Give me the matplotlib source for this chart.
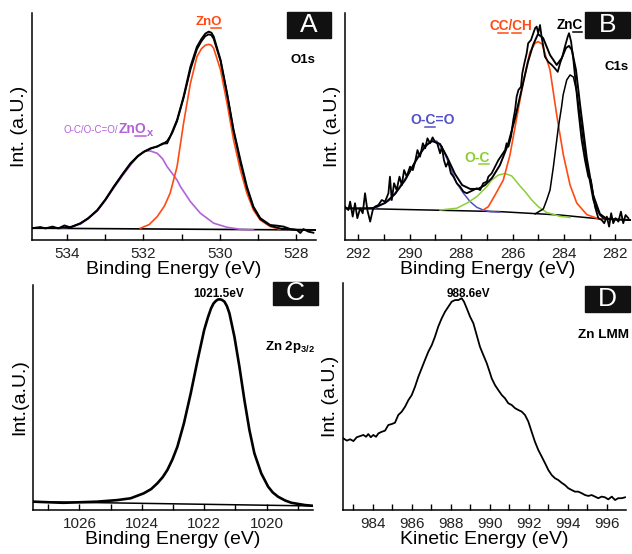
import numpy as np
import matplotlib
matplotlib.use("Agg")
import matplotlib.pyplot as plt
from matplotlib.lines import Line2D
from matplotlib.patches import Rectangle
from matplotlib.ticker import MultipleLocator
from matplotlib.font_manager import FontProperties

plt.rcParams['font.family'] = 'Liberation Sans'
plt.rcParams['axes.linewidth'] = 1.1
plt.rcParams['mathtext.fontset'] = 'custom'
plt.rcParams['mathtext.rm'] = 'Liberation Sans'
plt.rcParams['mathtext.bf'] = 'Liberation Sans:bold'

# ------------------------------------------------------------------
# DATA (energy in eV, intensity in arbitrary units, 0..100 = axis)
# ------------------------------------------------------------------
# Panel A : O1s
A_DATA = [(534.91, 5.2), (534.70, 5.7), (534.57, 5.1), (534.38, 5.9), (534.23, 5.1),
          (534.07, 6.4), (533.91, 5.5), (533.65, 7.4), (533.45, 9.5), (533.21, 13.2),
          (533.00, 17.8), (532.78, 23.5), (532.55, 29.0), (532.34, 33.8), (532.15, 37.0),
          (531.99, 38.9), (531.80, 40.5), (531.64, 41.1), (531.50, 42.5), (531.38, 42.6),
          (531.30, 45.5), (531.12, 52.9), (530.95, 63.1), (530.77, 76.3), (530.60, 85.1),
          (530.48, 88.6), (530.38, 90.9), (530.29, 91.8), (530.22, 91.3), (530.16, 89.6),
          (529.98, 79.3), (529.81, 64.6), (529.64, 48.5), (529.46, 35.2), (529.29, 23.5),
          (529.12, 14.7), (528.94, 9.6), (528.68, 6.6), (528.50, 6.3), (528.33, 5.9),
          (528.15, 4.8), (527.98, 4.4), (527.89, 3.1), (527.81, 4.8), (527.68, 3.7),
          (527.55, 3.2)]
A_ENVELOPE = [(534.92, 5.2), (534.2, 5.3), (533.9, 5.8), (533.65, 7.3), (533.45, 9.6),
              (533.21, 13.0), (533.0, 17.6), (532.78, 23.2), (532.55, 28.8), (532.34, 33.5),
              (532.15, 36.8), (531.99, 38.8), (531.8, 40.3), (531.64, 41.3), (531.5, 42.2),
              (531.38, 43.6), (531.25, 47.0), (531.12, 52.3), (530.95, 62.5), (530.77, 75.0),
              (530.6, 84.0), (530.48, 87.6), (530.38, 89.8), (530.29, 90.6), (530.22, 90.2),
              (530.16, 88.6), (529.98, 78.8), (529.81, 64.3), (529.64, 48.0), (529.46, 34.0),
              (529.29, 22.8), (529.12, 14.3), (528.94, 9.2), (528.68, 6.3), (528.4, 5.0),
              (528.0, 4.6), (527.5, 4.4)]
A_ZNO = [(532.08, 5.2), (531.85, 6.8), (531.64, 10.3), (531.45, 15.0), (531.30, 20.7),
         (531.12, 32.3), (530.95, 51.4), (530.77, 69.0), (530.60, 80.7), (530.48, 84.3),
         (530.38, 85.8), (530.29, 86.2), (530.22, 85.8), (530.16, 84.4), (529.98, 74.9),
         (529.81, 60.2), (529.64, 44.1), (529.46, 30.8), (529.29, 20.6), (529.12, 13.2),
         (528.94, 8.8), (528.68, 5.9), (528.42, 4.7)]
A_ZNOX = [(534.18, 5.1), (533.9, 5.8), (533.65, 7.0), (533.45, 9.3), (533.21, 12.8),
          (533.0, 17.4), (532.78, 22.9), (532.55, 28.3), (532.34, 33.0), (532.13, 37.2),
          (531.95, 39.3), (531.82, 39.2), (531.64, 38.2), (531.50, 35.8), (531.38, 32.3),
          (531.25, 29.4), (531.12, 26.4), (531.03, 23.5), (530.77, 16.9), (530.51, 11.8),
          (530.16, 7.4), (529.81, 5.6), (529.46, 4.7), (529.12, 4.4)]
A_BASE = [(534.92, 5.2), (527.48, 4.4)]

# Panel B : C1s
B_DATA = [(292.52, 14.7), (292.39, 13.2), (292.32, 16.9), (292.22, 10.3), (292.13, 16.2),
          (292.04, 9.6), (291.93, 14.0), (291.83, 11.8), (291.74, 20.6), (291.65, 13.2),
          (291.54, 8.1), (291.44, 13.2), (291.35, 14.7), (291.22, 15.4), (291.09, 17.6),
          (290.96, 16.9), (290.83, 20.6), (290.77, 27.9), (290.70, 17.6), (290.61, 25.0),
          (290.51, 22.0), (290.40, 27.9), (290.31, 24.2), (290.22, 30.8), (290.12, 27.9),
          (289.99, 32.3), (289.88, 30.8), (289.79, 34.5), (289.70, 39.6), (289.60, 36.7),
          (289.49, 42.6), (289.40, 40.4), (289.31, 44.8), (289.21, 42.6), (289.11, 45.2),
          (289.02, 43.3), (288.93, 42.6), (288.82, 38.2), (288.75, 41.1), (288.67, 35.2),
          (288.59, 32.3), (288.50, 34.5), (288.40, 29.4), (288.30, 27.9), (288.17, 25.0),
          (288.04, 23.5), (287.91, 21.3), (287.78, 20.6), (287.65, 21.3), (287.52, 22.0),
          (287.39, 22.8), (287.26, 22.0), (287.14, 25.0), (287.00, 25.7), (286.94, 27.9),
          (286.81, 29.4), (286.68, 32.3), (286.55, 35.2), (286.42, 37.4), (286.29, 39.6),
          (286.23, 42.6), (286.16, 41.1), (286.06, 45.5), (285.97, 52.9), (285.90, 57.3),
          (285.84, 63.1), (285.77, 66.1), (285.67, 67.5), (285.62, 73.4), (285.54, 77.8),
          (285.45, 82.2), (285.39, 86.7), (285.28, 88.1), (285.19, 91.1), (285.12, 93.3),
          (285.06, 94.0), (285.00, 91.1), (284.93, 94.7), (284.86, 88.9), (284.80, 85.2),
          (284.74, 80.8), (284.61, 78.5), (284.47, 77.1), (284.35, 75.6), (284.24, 74.1),
          (284.15, 77.8), (284.06, 80.8), (283.96, 85.2), (283.85, 89.6), (283.80, 91.1),
          (283.72, 87.4), (283.63, 79.3), (283.54, 69.0), (283.44, 57.3), (283.31, 44.1),
          (283.18, 35.2), (283.05, 27.9), (282.95, 26.4), (282.89, 22.0), (282.79, 14.7),
          (282.66, 9.6), (282.53, 8.8), (282.43, 7.4), (282.33, 10.3), (282.24, 5.9),
          (282.16, 11.8), (282.08, 7.4), (281.99, 9.6), (281.88, 8.1), (281.78, 12.5),
          (281.69, 7.4), (281.60, 11.0), (281.49, 9.6)]
B_ENVELOPE = [(292.52, 13.9), (291.93, 13.9), (291.43, 14.1), (290.96, 16.3), (290.57, 20.3),
              (290.18, 26.4), (289.79, 34.4), (289.40, 41.4), (289.13, 43.6), (288.82, 42.3),
              (288.55, 36.6), (288.24, 29.1), (287.96, 24.2), (287.65, 22.5), (287.34, 22.5),
              (287.07, 24.2), (286.80, 27.3), (286.49, 33.0), (286.18, 41.9), (285.90, 53.7),
              (285.63, 67.0), (285.40, 78.4), (285.20, 85.9), (285.01, 90.7), (284.81, 89.0),
              (284.54, 81.5), (284.28, 77.1), (284.08, 80.2), (283.92, 84.6), (283.80, 85.5),
              (283.69, 83.7), (283.53, 74.9), (283.37, 59.5), (283.11, 36.1), (282.86, 19.8),
              (282.60, 11.5), (282.36, 9.5), (282.01, 9.1), (281.43, 8.8)]
B_OCO = [(292.01, 13.9), (291.42, 13.5), (290.77, 17.6), (290.12, 27.9), (289.60, 38.2),
         (289.21, 43.3), (288.95, 43.6), (288.69, 39.6), (288.43, 32.3), (288.17, 25.0),
         (287.91, 20.6), (287.65, 16.9), (287.39, 14.4), (287.14, 13.2), (286.88, 12.5),
         (286.49, 12.3)]
B_OC = [(288.82, 13.2), (288.17, 14.0), (287.78, 16.2), (287.39, 19.1), (287.00, 23.5),
        (286.81, 26.4), (286.55, 28.6), (286.29, 29.3), (286.03, 28.2), (285.71, 23.8),
        (285.51, 21.3), (285.25, 17.6), (285.00, 14.7), (284.67, 12.1), (284.47, 11.5),
        (284.15, 10.4), (283.76, 9.9)]
B_CCCH = [(287.14, 13.2), (286.94, 14.7), (286.68, 19.8), (286.36, 26.4), (286.10, 37.4),
          (285.84, 53.6), (285.58, 69.7), (285.32, 82.9), (285.12, 86.7), (285.00, 87.4),
          (284.85, 86.3), (284.54, 74.9), (284.28, 55.1), (284.02, 37.4), (283.76, 24.2),
          (283.50, 16.3), (283.11, 11.2), (282.72, 9.6), (282.48, 9.1)]
B_ZNC = [(285.12, 11.5), (284.80, 13.7), (284.67, 17.6), (284.54, 22.0), (284.41, 32.2),
         (284.22, 49.3), (284.09, 58.7), (284.03, 63.9), (283.89, 70.5), (283.76, 72.7),
         (283.63, 71.8), (283.50, 65.2), (283.37, 54.3), (283.25, 44.1), (283.11, 33.0),
         (282.98, 25.1), (282.86, 17.6), (282.72, 13.7), (282.60, 11.0), (282.47, 9.6)]
B_BASE = [(292.52, 14.0), (288.82, 13.1), (286.49, 12.5), (284.15, 11.0), (282.60, 9.3),
          (281.43, 8.8)]

# Panel C : Zn 2p3/2
C_DATA = [(1027.48, 3.7), (1026.52, 3.2), (1025.44, 3.7), (1024.79, 4.4), (1024.36, 5.2),
          (1023.94, 7.4), (1023.70, 9.3), (1023.50, 11.9), (1023.33, 14.6), (1023.18, 17.8),
          (1023.02, 22.4), (1022.86, 28.1), (1022.65, 38.5), (1022.43, 51.9), (1022.21, 66.7),
          (1022.00, 80.0), (1021.88, 85.6), (1021.78, 89.6), (1021.70, 91.8), (1021.62, 93.0),
          (1021.55, 93.6), (1021.48, 93.6), (1021.42, 93.3), (1021.35, 92.6), (1021.27, 90.6),
          (1021.19, 87.4), (1021.03, 77.0), (1020.87, 63.7), (1020.71, 48.9), (1020.55, 35.6),
          (1020.39, 25.2), (1020.17, 16.3), (1019.95, 10.4), (1019.80, 7.8), (1019.63, 5.9),
          (1019.40, 4.2), (1019.20, 3.2), (1018.77, 2.2), (1018.45, 1.8)]
C_BASE = [(1027.5, 3.7), (1018.5, 1.8)]

# Panel D : Zn LMM (kinetic energy)
D_DATA = [(982.49, 31.6), (982.67, 30.6), (982.84, 31.2), (983.01, 30.4), (983.18, 32.1),
          (983.35, 32.6), (983.52, 33.1), (983.66, 32.3), (983.77, 33.5), (983.90, 32.1),
          (984.03, 33.1), (984.17, 32.3), (984.29, 33.8), (984.46, 34.5), (984.63, 35.0),
          (984.80, 37.5), (984.97, 37.9), (985.14, 38.5), (985.31, 41.9), (985.49, 43.4),
          (985.66, 45.6), (985.83, 48.5), (986.00, 50.7), (986.17, 54.4), (986.34, 58.8),
          (986.51, 62.5), (986.68, 66.2), (986.85, 69.8), (987.03, 72.8), (987.19, 76.4),
          (987.36, 80.9), (987.54, 84.6), (987.71, 87.5), (987.88, 89.7), (988.05, 91.9),
          (988.22, 92.6), (988.39, 92.6), (988.56, 93.4), (988.68, 91.9), (988.82, 89.0),
          (988.99, 85.3), (989.16, 82.4), (989.33, 77.2), (989.50, 72.0), (989.67, 68.4),
          (989.85, 64.7), (990.02, 60.3), (990.10, 58.1), (990.27, 55.1), (990.44, 52.9),
          (990.62, 50.7), (990.78, 49.3), (990.95, 47.1), (991.13, 46.3), (991.30, 44.9),
          (991.47, 44.1), (991.64, 43.4), (991.81, 41.9), (991.98, 39.0), (992.15, 34.5),
          (992.32, 30.1), (992.49, 26.5), (992.67, 23.5), (992.84, 20.6), (993.01, 17.6),
          (993.18, 15.4), (993.35, 14.0), (993.52, 13.2), (993.69, 12.0), (993.86, 11.0),
          (994.03, 9.6), (994.21, 8.8), (994.37, 8.1), (994.54, 8.1), (994.72, 7.4),
          (994.89, 6.6), (995.06, 6.2), (995.23, 6.6), (995.40, 5.9), (995.57, 5.2),
          (995.74, 5.9), (995.91, 5.6), (996.08, 4.7), (996.26, 5.9), (996.43, 4.4),
          (996.59, 5.2), (996.77, 5.2), (996.94, 5.6)]

ORANGE = '#ff4a12'
PURPLE = '#b262d8'
BLUE = '#5252c8'
GREEN = '#8ccf34'

W, H = 632, 554
fig = plt.figure(figsize=(W / 100, H / 100), dpi=100)
renderer = fig.canvas.get_renderer()


def add_axes_px(left, top, right, bottom):
    return fig.add_axes([left / W, 1 - bottom / H, (right - left) / W, (bottom - top) / H])


def style(ax, xlim, xlabel, ylabel):
    ax.set_xlim(*xlim)
    ax.set_ylim(0, 100)
    ax.spines['top'].set_visible(False)
    ax.spines['right'].set_visible(False)
    ax.set_yticks([])
    ax.xaxis.set_major_locator(MultipleLocator(2))
    ax.xaxis.set_minor_locator(MultipleLocator(1))
    ax.tick_params(axis='x', which='both', direction='in', length=4, width=1,
                   labelsize=11, pad=5, labelcolor='#222222')
    ax.set_xlabel(xlabel, fontsize=14, labelpad=0)
    ax.set_ylabel(ylabel, fontsize=14, labelpad=3)


def curve(ax, pairs, color, lw):
    e, i = zip(*pairs)
    ax.plot(e, i, color=color, lw=lw, solid_joinstyle='round')


def text_width(s, size, weight='bold'):
    w, _, _ = renderer.get_text_width_height_descent(
        s, FontProperties(size=size, weight=weight), ismath=False)
    return w


def label(s, cx, base_y, size, color, underline=(), weight='bold', ha='center'):
    """Text at pixel position (cx, baseline y from top); chars at indices in underline get a bar."""
    t = fig.text(cx / W, 1 - base_y / H, s, fontsize=size, color=color, weight=weight,
                 ha=ha, va='baseline')
    bb = t.get_window_extent(renderer)
    for i in underline:
        end = text_width(s[:i + 1], size, weight)
        start = end - text_width(s[i], size, weight)
        yy = 1 - (base_y + 2.6) / H
        fig.add_artist(Line2D([(bb.x0 + start - 0.5) / W, (bb.x0 + end - 0.8) / W], [yy, yy],
                              color=color, lw=1.1, transform=fig.transFigure))
    return bb


def tag(left, top, right, bottom, letter):
    fig.add_artist(Rectangle((left / W, 1 - bottom / H), (right - left) / W, (bottom - top) / H,
                             transform=fig.transFigure, color='#111111', zorder=5))
    fig.text((left + right) / 2 / W, 1 - (top + bottom) / 2 / H, letter, color='white',
             fontsize=19, ha='center', va='center', zorder=6)


# --- Panel A ---
axA = add_axes_px(32, 13, 316, 240)
style(axA, (534.92, 527.48), 'Binding Energy (eV)', 'Int. (a.U.)')
curve(axA, A_BASE, 'black', 1.2)
curve(axA, A_ZNOX, PURPLE, 1.2)
curve(axA, A_ZNO, ORANGE, 1.2)
curve(axA, A_DATA, 'black', 1.4)
curve(axA, A_ENVELOPE, 'black', 1.3)

# --- Panel B ---
axB = add_axes_px(345, 13, 630.7, 240)
style(axB, (292.52, 281.4), 'Binding Energy (eV)', 'Int. (a.U.)')
curve(axB, B_BASE, 'black', 1.1)
curve(axB, B_OCO, BLUE, 1.1)
curve(axB, B_OC, GREEN, 1.1)
curve(axB, B_CCCH, ORANGE, 1.2)
curve(axB, B_ZNC, 'black', 1.1)
curve(axB, B_DATA, 'black', 1.3)
curve(axB, B_ENVELOPE, 'black', 1.4)

# --- Panel C ---
axC = add_axes_px(32.7, 285, 313.3, 510)
style(axC, (1027.5, 1018.5), 'Binding Energy (eV)', 'Int.(a.U.)')
curve(axC, C_BASE, 'black', 1.1)
curve(axC, C_DATA, 'black', 1.9)

# --- Panel D ---
axD = add_axes_px(343.3, 283.3, 626, 510)
style(axD, (982.49, 996.99), 'Kinetic Energy (eV)', 'Int. (a.U.)')
curve(axD, D_DATA, 'black', 1.3)

# --- annotations ---
label("ZnO", 208.5, 25, 9.5, ORANGE, underline=(2,))
label("O1s", 303, 63, 9.5, 'black')
bb = label("O-C/O-C=O/", 63, 133, 7, PURPLE, weight='normal', ha='left')
bb = label("ZnO", bb.x1 + 1, 133, 10, PURPLE, underline=(2,), ha='left')
label("x", bb.x1 + 0.5, 136, 8, PURPLE, ha='left')

label("CC/CH", 510.5, 30.5, 9.8, ORANGE, underline=(1, 3))
label("ZnC", 569.7, 29.3, 9.8, 'black', underline=(2,))
label("C1s", 616.5, 70, 9.5, 'black')
label("O-C=O", 432.5, 124, 10, BLUE, underline=(2,))
label("O-C", 477, 161.7, 10, GREEN, underline=(2,))

label("1021.5eV", 218.3, 296.7, 8.5, 'black')
label(r"Zn 2p$_{\mathbf{3/2}}$", 290, 350, 9.5, 'black')
label("988.6eV", 468, 297, 8.5, 'black')
label("Zn LMM", 603.5, 338, 9.7, 'black')

tag(287, 12, 331, 38, 'A')
tag(585, 12, 630, 38, 'B')
tag(273, 282, 318, 305, 'C')
tag(585, 286, 630, 312, 'D')

fig.savefig('out.png', dpi=100)
